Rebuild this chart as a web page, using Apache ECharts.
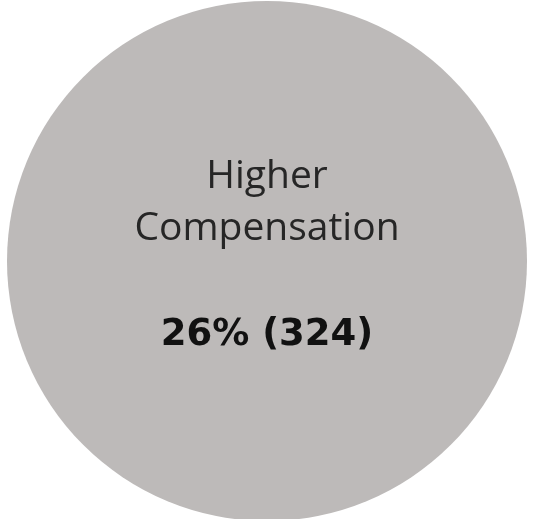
<!DOCTYPE html>
<html>
<head>
<meta charset="utf-8">
<script src="https://cdn.jsdelivr.net/npm/echarts@6/dist/echarts.min.js"></script>
<style>
  html, body { margin: 0; padding: 0; background: #ffffff; }
  #chart { width: 534px; height: 519px; }
</style>
</head>
<body>
<div id="chart"></div>
<script>
// One response category, shown as a single full disc
const categories = ['Higher Compensation'];
const counts = [324];
const percents = [26];

const chart = echarts.init(document.getElementById('chart'), null, { renderer: 'canvas' });

// Break the category name onto two lines ("Higher" / "Compensation")
function splitName(name) {
  const i = name.indexOf(' ');
  return i < 0 ? name : name.slice(0, i) + '\n' + name.slice(i + 1);
}

chart.setOption({
  animation: false,
  backgroundColor: '#ffffff',
  series: [{
    type: 'pie',
    center: [267, 261],
    radius: [0, 260],
    silent: true,
    startAngle: 90,
    itemStyle: { color: '#bdbab9' },
    label: {
      show: true,
      position: 'center',
      offset: [0, -5],
      formatter: function (p) {
        const lines = splitName(p.name).split('\n').map(s => '{n|' + s + '}');
        return lines.join('\n') + '\n{g|}\n{v|' + percents[p.dataIndex] + '% (' + p.value + ')}';
      },
      rich: {
        n: { fontFamily: 'Open Sans', fontSize: 39, lineHeight: 52, color: '#262626', align: 'center' },
        g: { lineHeight: 54, fontSize: 10 },
        v: { fontFamily: 'DejaVu Sans', fontWeight: 'bold', fontSize: 37, lineHeight: 52, color: '#111111', align: 'center' }
      }
    },
    labelLine: { show: false },
    data: categories.map((c, i) => ({ name: c, value: counts[i] }))
  }]
});
</script>
</body>
</html>
